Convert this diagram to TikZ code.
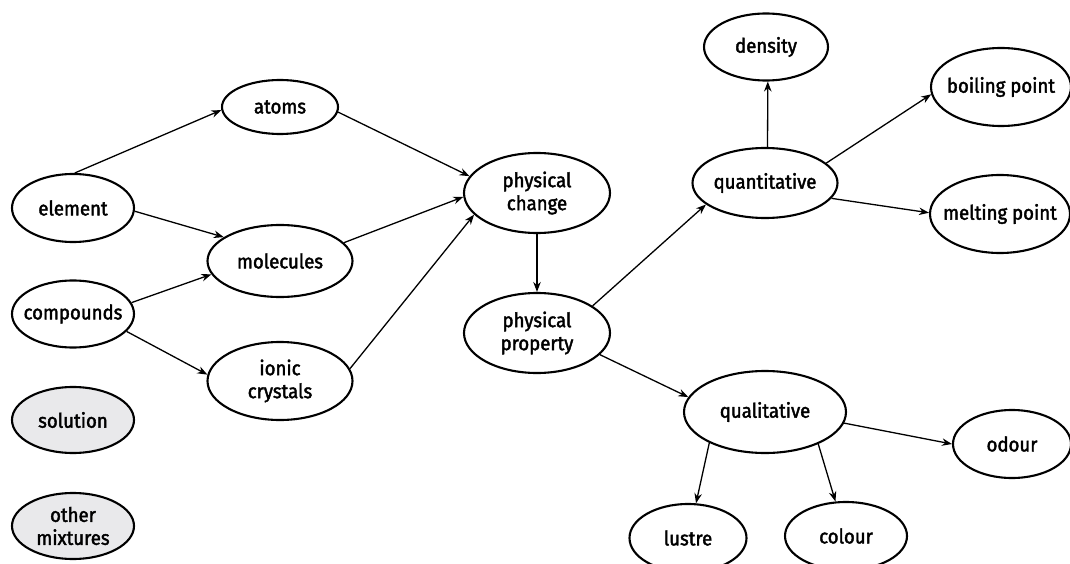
\documentclass[tikz,border=0pt]{standalone}
\usepackage{fontspec}
\setmainfont{Fira Sans}[FakeBold=2, FakeStretch=0.93]
\usetikzlibrary{shapes.geometric,arrows.meta}
\definecolor{mixfill}{HTML}{E9E9EB}
\tikzset{
  concept/.style={ellipse, draw, line width=2.1pt, inner sep=-16pt, align=center,
    font=\fontsize{20}{23}\selectfont},
  mixture/.style={concept, fill=mixfill},
  link/.style={line width=1.3pt, -{Stealth[length=10pt,width=7.5pt]}}
}
\begin{document}
\begin{tikzpicture}[x=1pt,y=-1pt]
\useasboundingbox (0,0) rectangle (1070,564);

% left column
\node[concept, minimum width=122pt, minimum height=68pt] (element) at (73,208) {element};
\node[concept, minimum width=122pt, minimum height=67pt] (compounds) at (73,314) {compounds};
\node[mixture, minimum width=122pt, minimum height=66pt] (solution) at (73,420) {solution};
\node[mixture, minimum width=122pt, minimum height=66pt] (mixtures) at (73,526) {other\\mixtures};

% particle types
\node[concept, minimum width=116pt, minimum height=54pt] (atoms) at (280,107) {atoms};
\node[concept, minimum width=145pt, minimum height=72pt] (molecules) at (280,261) {molecules};
\node[concept, minimum width=145pt, minimum height=78pt] (ionic) at (280,381) {ionic\\crystals};

% physical change and property
\node[concept, minimum width=146pt, minimum height=80pt] (change) at (537,193) {physical\\change};
\node[concept, minimum width=146pt, minimum height=80pt] (property) at (537,333) {physical\\property};

% quantitative branch
\node[concept, minimum width=145pt, minimum height=70pt] (quant) at (765,183) {quantitative};
\node[concept, minimum width=124pt, minimum height=67pt] (density) at (766,47) {density};
\node[concept, minimum width=140pt, minimum height=78pt] (boiling) at (1001,87) {boiling point};
\node[concept, minimum width=140pt, minimum height=78pt] (melting) at (1000,214) {melting point};

% qualitative branch
\node[concept, minimum width=162pt, minimum height=82pt] (qual) at (765,412) {qualitative};
\node[concept, minimum width=118pt, minimum height=68pt] (odour) at (1012,444) {odour};
\node[concept, minimum width=117pt, minimum height=68pt] (lustre) at (688,538) {lustre};
\node[concept, minimum width=122pt, minimum height=68pt] (colour) at (846,536) {colour};

% connectors
\draw[link] (element.87) -- (atoms.183);
\draw[link] (element.-3) -- (molecules.157);
\draw[link] (compounds.11) -- (molecules.191);
\draw[link] (compounds.-18) -- (ionic.175);
\draw[link] (atoms.-5) -- (change.166);
\draw[link] (molecules.16) -- (change.183);
\draw[link] (ionic.10) -- (change.199);
\draw[link] (change.270) -- (property.90);
\draw[link] (property.26) -- (quant.200);
\draw[link] (property.-19) -- (qual.169);
\draw[link] (quant.86) -- (density.273);
\draw[link] (quant.18) -- (boiling.186);
\draw[link] (quant.-13) -- (melting.179);
\draw[link] (qual.-8) -- (odour.180);
\draw[link] (qual.209) -- (lustre.77);
\draw[link] (qual.-31) -- (colour.107);
\end{tikzpicture}
\end{document}
